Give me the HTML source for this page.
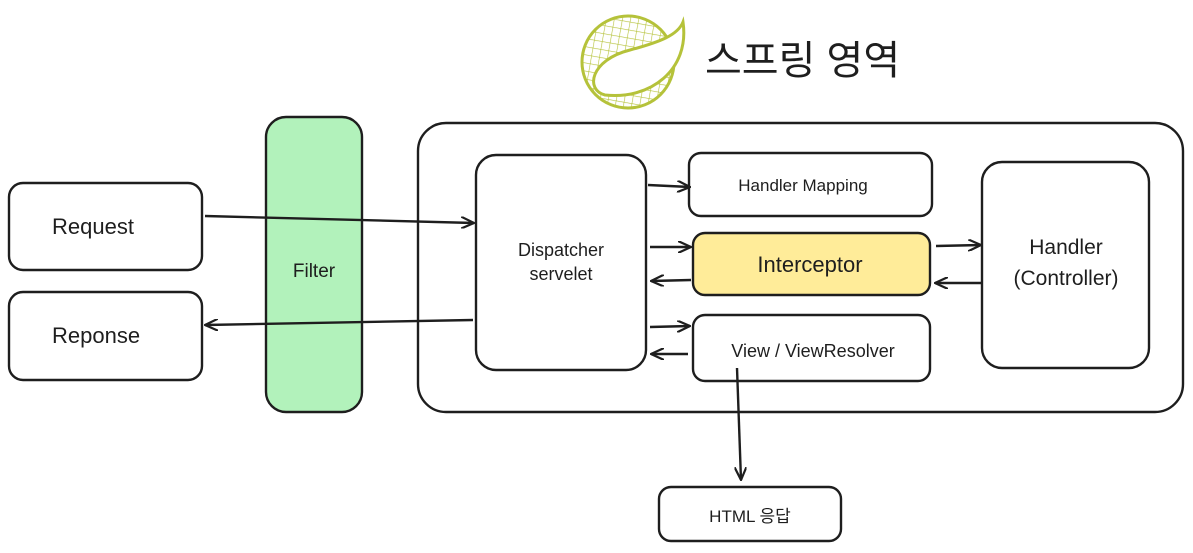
<!DOCTYPE html>
<html><head><meta charset="utf-8"><style>
html,body{margin:0;padding:0;background:#fff;width:1193px;height:553px;overflow:hidden}
text{font-family:"Liberation Sans","Noto Sans CJK KR",sans-serif;fill:#1e1e1e}
</style></head><body>
<svg width="1193" height="553" viewBox="0 0 1193 553" xmlns="http://www.w3.org/2000/svg">
<defs>
<marker id="a" markerWidth="14" markerHeight="12" refX="13" refY="6" orient="auto" markerUnits="userSpaceOnUse">
<path d="M0,0 L13,6 L0,12" fill="none" stroke="#1e1e1e" stroke-width="2.2"/></marker>
<pattern id="h" width="8" height="8" patternUnits="userSpaceOnUse" patternTransform="rotate(10)">
<path d="M0,0 H8 M0,0 V8" stroke="#b5c23a" stroke-width="1.2"/></pattern>
</defs>
<g fill="none" stroke="#1e1e1e" stroke-width="2.4">
<circle cx="628" cy="62" r="46" fill="url(#h)" stroke="#b5c23a" stroke-width="3"/>
<path d="M683,22 C690,70 650,100 605,95 C585,90 590,60 630,50 C660,42 678,35 683,22 Z" fill="#fff" stroke="#b5c23a" stroke-width="3"/>
<rect x="418" y="123" width="765" height="289" rx="28"/>
<rect x="9" y="183" width="193" height="87" rx="14"/>
<rect x="9" y="292" width="193" height="88" rx="14"/>
<rect x="266" y="117" width="96" height="295" rx="20" fill="#b2f2bb"/>
<rect x="476" y="155" width="170" height="215" rx="20"/>
<rect x="689" y="153" width="243" height="63" rx="12"/>
<rect x="693" y="233" width="237" height="62" rx="12" fill="#ffec99"/>
<rect x="693" y="315" width="237" height="66" rx="12"/>
<rect x="982" y="162" width="167" height="206" rx="20"/>
<rect x="659" y="487" width="182" height="54" rx="12"/>
<path d="M205,216 L474,223" marker-end="url(#a)"/>
<path d="M473,320 L205,325" marker-end="url(#a)"/>
<path d="M648,185 L690,187" marker-end="url(#a)"/>
<path d="M650,247 L691,247" marker-end="url(#a)"/>
<path d="M691,280 L651,281" marker-end="url(#a)"/>
<path d="M650,327 L690,326" marker-end="url(#a)"/>
<path d="M688,354 L651,354" marker-end="url(#a)"/>
<path d="M936,246 L981,245" marker-end="url(#a)"/>
<path d="M981,283 L935,283" marker-end="url(#a)"/>
<path d="M737,368 L741,480" marker-end="url(#a)"/>
</g>
<text x="705" y="74" font-size="40">스프링 영역</text>
<text x="52" y="234" font-size="22">Request</text>
<text x="52" y="343" font-size="22">Reponse</text>
<text x="314" y="277" font-size="19" text-anchor="middle">Filter</text>
<text x="561" y="256" font-size="18" text-anchor="middle">Dispatcher</text>
<text x="561" y="280" font-size="18" text-anchor="middle">servelet</text>
<text x="803" y="191" font-size="17" text-anchor="middle">Handler Mapping</text>
<text x="810" y="272" font-size="22" text-anchor="middle">Interceptor</text>
<text x="813" y="357" font-size="18" text-anchor="middle">View / ViewResolver</text>
<text x="1066" y="254" font-size="21" text-anchor="middle">Handler</text>
<text x="1066" y="285" font-size="21" text-anchor="middle">(Controller)</text>
<text x="750" y="522" font-size="17" text-anchor="middle">HTML 응답</text>
</svg>
</body></html>
